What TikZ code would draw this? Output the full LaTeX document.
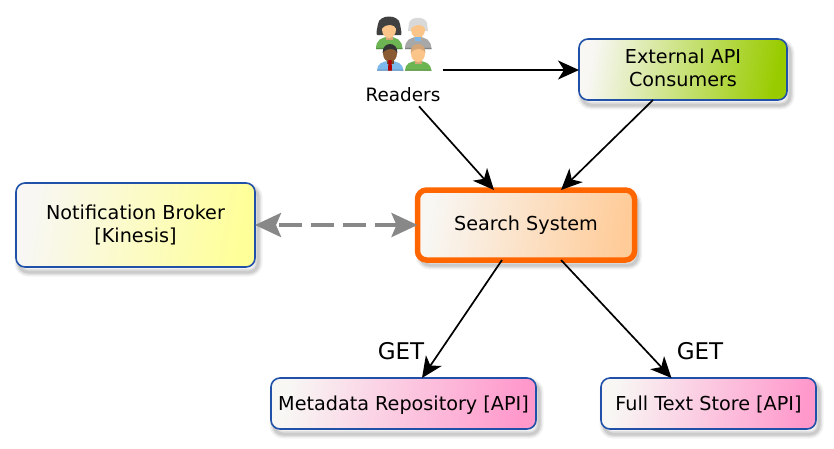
\documentclass[tikz,border=0pt]{standalone}
\usepackage{fontspec}
\setmainfont{DejaVu Sans}
\usetikzlibrary{arrows.meta,calc}
\definecolor{edgeblue}{HTML}{2050A8}
\definecolor{startfill}{HTML}{F8F7F4}
\definecolor{arrowgray}{HTML}{888888}
\definecolor{hotorange}{HTML}{FF6600}
\definecolor{skinA}{HTML}{FBC58A}
\definecolor{skinB}{HTML}{8A5A32}
\definecolor{shirtgreen}{HTML}{6DB553}
\definecolor{shirtblue}{HTML}{7DB8EC}
\definecolor{suitgray}{HTML}{A8A8A8}
\tikzset{
  softshadow/.style={preaction={fill=none,draw=black,draw opacity=.05,line width=9pt,transform canvas={shift={(3pt,-5pt)}}},
    preaction={fill=none,draw=black,draw opacity=.07,line width=6pt,transform canvas={shift={(3pt,-5pt)}}},
    preaction={fill=none,draw=black,draw opacity=.09,line width=3pt,transform canvas={shift={(3pt,-5pt)}}}},
  card/.style={rectangle,rounded corners=9pt,draw=edgeblue,line width=1.6pt,outer sep=0pt,inner sep=0pt,
    align=center,font=\fontsize{19.2}{23}\selectfont,text=black},
  flow/.style={draw=black,line width=1.7pt,-{Stealth[length=21pt,width=19pt,inset=6pt]}},
  notify/.style={draw=arrowgray,line width=4pt,dash pattern=on 23pt off 9pt,dash phase=28pt,
     {Stealth[length=26pt,width=24pt,inset=5pt]}-{Stealth[length=26pt,width=24pt,inset=5pt]}},
  getlabel/.style={font=\fontsize{23}{26}\selectfont,inner sep=0pt},
}
\newcommand{\peoplefig}[7]{% x,y,skin,hair,shirt,shirtdark,bottom (relative)
  \begin{scope}[shift={(#1,#2)}]
    \fill[#5] (-13,#7) .. controls (-13,11) and (-8,8) .. (0,8) .. controls (8,8) and (13,11) .. (13.5,#7) -- cycle;
    \fill[#6] (-13,#7) -- (13.5,#7) -- (13.2,#7-1.2) -- (-12.7,#7-1.2) -- cycle;
    \fill[#3!85!black] (-3.5,5) rectangle (3.5,11);
    \fill[#3] (0,0.5) ellipse (7pt and 8.5pt);
    \fill[#4] (-7.4,0) .. controls (-8,-12) and (8,-12) .. (7.4,0) .. controls (6,-5) and (-3,-6) .. (-7.4,0) -- cycle;
  \end{scope}}
\begin{document}
\begin{tikzpicture}[x=1pt,y=-1pt]
\useasboundingbox (0,0) rectangle (834,448);
\fill[white] (0,0) rectangle (834,448);
% people
\fill[black!75] (378,24) .. controls (379,14) and (399,14) .. (400,24) .. controls (401,30) and (402,33) .. (401,35) -- (377,35) .. controls (376,33) and (377,29) .. (378,24) -- cycle;
\peoplefig{389}{29}{skinA}{black!75}{shirtgreen}{shirtgreen!80!black}{20}
\fill[gray!30] (409,23) .. controls (411,16) and (425,16) .. (427,23) -- (428,31) -- (408,31) -- cycle;
\peoplefig{418}{29}{skinA}{gray!30}{suitgray}{gray}{20}
\fill[shirtblue] (415,37) rectangle (421,41);
\peoplefig{390}{53}{skinB}{black!80}{shirtblue}{shirtblue!80!black}{17.7}
\fill[red!70!black] (388.5,60) -- (391.5,60) -- (392,70.7) -- (388,70.7) -- cycle;
\peoplefig{418}{53}{skinA}{brown!70!white}{shirtgreen}{shirtgreen!80!black}{17.7}
\node[inner sep=0pt,font=\fontsize{18.4}{22}\selectfont] (readers) at (403,95) {Readers};
% boxes
\node[card,softshadow,left color=startfill,right color={rgb,255:red,255;green,255;blue,153},shading angle=80,minimum width=239pt,minimum height=84pt] (broker) at (135.5,225) {Notification Broker\\{}[Kinesis]};
\node[card,softshadow,draw=hotorange,line width=5.5pt,left color=startfill,right color={rgb,255:red,255;green,204;blue,153},shading angle=80,minimum width=217pt,minimum height=70pt] (search) at (526,225) {Search System};
\node[card,softshadow,left color=startfill,right color={rgb,255:red,153;green,204;blue,0},shading angle=80,minimum width=208pt,minimum height=61pt] (external) at (683,69.5) {\raisebox{1.5pt}[\height][\depth]{External API}\\\raisebox{1.5pt}[\height][\depth]{Consumers}};
\node[card,softshadow,left color=startfill,right color={rgb,255:red,255;green,153;blue,204},shading angle=80,minimum width=265pt,minimum height=51pt] (metadata) at (403.5,403.5) {\raisebox{-2pt}[\height][\depth]{Metadata Repository [API]}};
\node[card,softshadow,left color=startfill,right color={rgb,255:red,255;green,153;blue,204},shading angle=80,minimum width=215pt,minimum height=51pt] (fulltext) at (708.5,403.5) {\raisebox{-1pt}[\height][\depth]{Full Text Store [API]}};
% connectors
\draw[flow] ([xshift=2pt,yshift=25pt]readers.east) -- ([yshift=-0.5pt]external.west);
\draw[flow] ([xshift=16pt,yshift=-4pt]readers.south) -- ([xshift=-32pt]search.north);
\draw[flow] ([xshift=-30pt]external.south) -- ([xshift=35pt]search.north);
\draw[flow] ([xshift=-24pt]search.south) -- ([xshift=18.5pt]metadata.north);
\draw[flow] ([xshift=35pt]search.south) -- ([xshift=-37pt]fulltext.north);
\draw[notify] (broker.east) -- (search.west);
\node[getlabel] (get1) at (401,351) {GET};
\node[getlabel] (get2) at (700,351) {GET};
\end{tikzpicture}
\end{document}
